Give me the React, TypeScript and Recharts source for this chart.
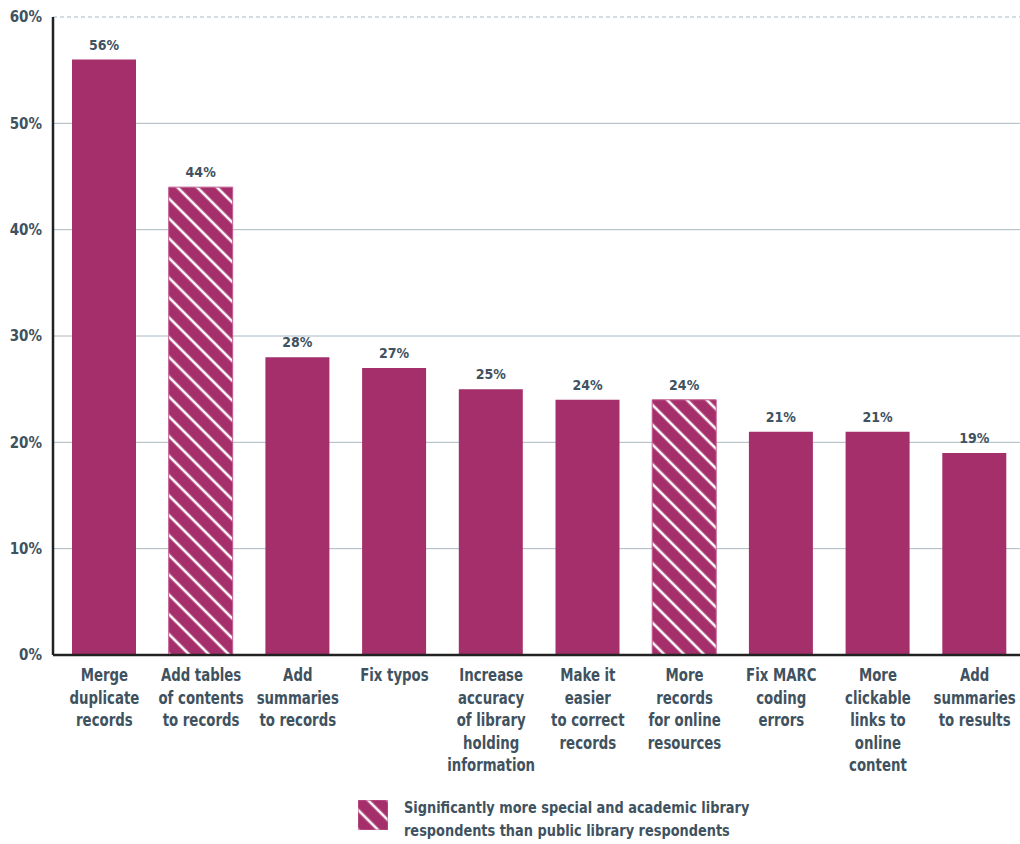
import { useEffect } from "react";
import {
  BarChart,
  Bar,
  XAxis,
  YAxis,
  CartesianGrid,
  Cell,
  LabelList,
  Legend,
  ReferenceLine
} from "recharts";

const categories = [
  "Merge\nduplicate\nrecords",
  "Add tables\nof contents\nto records",
  "Add\nsummaries\nto records",
  "Fix typos",
  "Increase\naccuracy\nof library\nholding\ninformation",
  "Make it\neasier\nto correct\nrecords",
  "More\nrecords\nfor online\nresources",
  "Fix MARC\ncoding\nerrors",
  "More\nclickable\nlinks to\nonline\ncontent",
  "Add\nsummaries\nto results"
];
const values = [56, 44, 28, 27, 25, 24, 24, 21, 21, 19];
const significant = [false, true, false, false, false, false, true, false, false, false];
const yTicks = [0, 10, 20, 30, 40, 50, 60];
const legendLines = [
  "Significantly more special and academic library",
  "respondents than public library respondents"
];

const data = categories.map((name, i) => ({ name, value: values[i], hatched: significant[i] }));

const BAR = "#a52f6b";
const TEXT = "#3f5260";
const GRID = "#aab8c2";
const FONT = "'DejaVu Sans Condensed', 'DejaVu Sans', sans-serif";
const SQUEEZE = 0.87;

function CategoryTick(props: any) {
  const { x, y, payload } = props;
  const lines = String(payload.value).split("\n");
  return (
    <g transform={`translate(${x},${y + 18})`}>
      <text
        transform={`scale(${SQUEEZE},1)`}
        x={0}
        y={0}
        textAnchor="middle"
        fill={TEXT}
        fontSize={17}
        fontWeight="bold"
        fontFamily={FONT}
      >
        {lines.map((l, i) => (
          <tspan key={i} x={0} dy={i === 0 ? 0 : 22.6}>
            {l}
          </tspan>
        ))}
      </text>
    </g>
  );
}

function HatchLegend() {
  return (
    <div style={{ width: 1020, height: 59, position: "relative", fontFamily: FONT }}>
      <svg width={30} height={30} style={{ position: "absolute", left: 358, top: 15 }}>
        <rect x={0} y={0} width={30} height={30} fill="url(#hatch)" stroke="#c25b90" />
      </svg>
      <div
        style={{
          position: "absolute",
          left: 404,
          top: 11,
          color: TEXT,
          fontSize: 16.5,
          fontWeight: "bold",
          lineHeight: "23px",
          textAlign: "left",
          whiteSpace: "nowrap",
          transform: `scale(${SQUEEZE},1)`,
          transformOrigin: "left top"
        }}
      >
        {legendLines.map((l) => (
          <div key={l}>{l}</div>
        ))}
      </div>
    </div>
  );
}

export default function App() {
  useEffect(() => {
    document.body.style.margin = "0";
  }, []);

  return (
    <div style={{ width: 1020, height: 844, background: "#fff", fontFamily: FONT }}>
      <BarChart width={1020} height={844} data={data} margin={{ top: 17, right: 0, bottom: 0, left: 0 }}>
        <defs>
          <pattern id="hatch" patternUnits="userSpaceOnUse" width={14} height={14} patternTransform="rotate(-45)">
            <rect x={0} y={0} width={14} height={14} fill={BAR} />
            <line x1={7} y1={0} x2={7} y2={14} stroke="#fff" strokeWidth={2.6} />
          </pattern>
        </defs>
        <CartesianGrid vertical={false} stroke={GRID} />
        <ReferenceLine y={60} stroke="#fff" strokeWidth={2} />
        <ReferenceLine y={60} stroke={GRID} strokeDasharray="4 3" />
        <XAxis
          dataKey="name"
          interval={0}
          height={130}
          padding={{ left: 3, right: -3 }}
          tickLine={false}
          axisLine={{ stroke: "#222", strokeWidth: 2.5 }}
          tick={<CategoryTick />}
        />
        <YAxis
          width={53}
          domain={[0, 60]}
          ticks={yTicks}
          tickLine={false}
          tickSize={0}
          tickMargin={11}
          tickFormatter={(v: number) => `${v}%`}
          axisLine={{ stroke: "#222", strokeWidth: 2.5 }}
          tick={{ fill: TEXT, fontSize: 15, fontWeight: "bold", fontFamily: FONT }}
        />
        <Legend verticalAlign="bottom" wrapperStyle={{ left: 0, width: 1020 }} content={() => <HatchLegend />} />
        <Bar dataKey="value" barSize={64} isAnimationActive={false}>
          {data.map((d, i) => (
            <Cell
              key={i}
              fill={d.hatched ? "url(#hatch)" : BAR}
              stroke={d.hatched ? "#c25b90" : "none"}
              strokeWidth={1}
            />
          ))}
          <LabelList
            dataKey="value"
            position="top"
            offset={10}
            formatter={(v: any) => `${v}%`}
            fill={TEXT}
            fontSize={14}
            fontWeight="bold"
            fontFamily={FONT}
          />
        </Bar>
      </BarChart>
    </div>
  );
}
